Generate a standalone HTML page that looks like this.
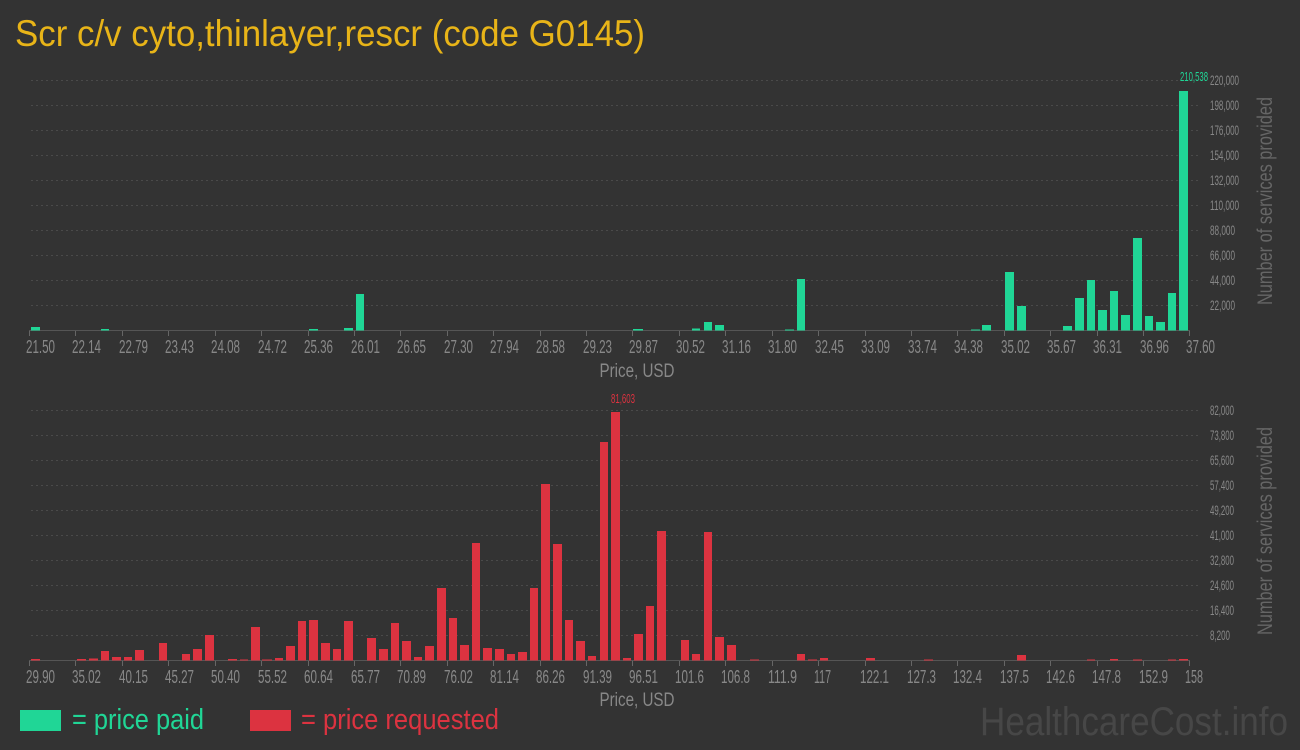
<!DOCTYPE html>
<html><head><meta charset="utf-8"><style>
html,body{margin:0;padding:0;background:#333333;}
svg{display:block;}
text{font-family:"Liberation Sans Narrow","Liberation Sans",sans-serif;}
</style></head><body>
<svg width="1300" height="750" viewBox="0 0 1300 750" xmlns="http://www.w3.org/2000/svg">
<rect width="1300" height="750" fill="#333333"/>
<text x="15" y="46" font-size="37" fill="#e8b418" textLength="630" lengthAdjust="spacingAndGlyphs">Scr c/v cyto,thinlayer,rescr (code G0145)</text>

<g stroke="#4a4a4a" stroke-width="1" stroke-dasharray="2,3">
<line x1="31" x2="1200" y1="80.5" y2="80.5"/><line x1="31" x2="1200" y1="105.5" y2="105.5"/>
<line x1="31" x2="1200" y1="130.5" y2="130.5"/><line x1="31" x2="1200" y1="155.5" y2="155.5"/>
<line x1="31" x2="1200" y1="180.5" y2="180.5"/><line x1="31" x2="1200" y1="205.5" y2="205.5"/>
<line x1="31" x2="1200" y1="230.5" y2="230.5"/><line x1="31" x2="1200" y1="255.5" y2="255.5"/>
<line x1="31" x2="1200" y1="280.5" y2="280.5"/><line x1="31" x2="1200" y1="305.5" y2="305.5"/>
</g>
<line x1="29" x2="1190" y1="330.5" y2="330.5" stroke="#555" stroke-width="1"/>
<g fill="#888" font-size="14">
<text x="1210" y="85" textLength="29" lengthAdjust="spacingAndGlyphs">220,000</text>
<text x="1210" y="110" textLength="29" lengthAdjust="spacingAndGlyphs">198,000</text>
<text x="1210" y="135" textLength="29" lengthAdjust="spacingAndGlyphs">176,000</text>
<text x="1210" y="160" textLength="29" lengthAdjust="spacingAndGlyphs">154,000</text>
<text x="1210" y="185" textLength="29" lengthAdjust="spacingAndGlyphs">132,000</text>
<text x="1210" y="210" textLength="29" lengthAdjust="spacingAndGlyphs">110,000</text>
<text x="1210" y="235" textLength="25" lengthAdjust="spacingAndGlyphs">88,000</text>
<text x="1210" y="260" textLength="25" lengthAdjust="spacingAndGlyphs">66,000</text>
<text x="1210" y="285" textLength="25" lengthAdjust="spacingAndGlyphs">44,000</text>
<text x="1210" y="310" textLength="25" lengthAdjust="spacingAndGlyphs">22,000</text>
</g>
<text transform="translate(1272,201) rotate(-90)" text-anchor="middle" font-size="21" fill="#666" font-family="Liberation Sans, sans-serif" textLength="208" lengthAdjust="spacingAndGlyphs">Number of services provided</text>
<g fill="#20d696">
<rect x="31" y="327" width="9" height="3.5"/>
<rect x="101" y="329" width="8" height="1.5"/>
<rect x="309" y="329" width="9" height="1.5"/>
<rect x="344" y="328" width="9" height="2.5"/>
<rect x="356" y="294" width="8" height="36.5"/>
<rect x="633" y="329" width="10" height="1.5"/>
<rect x="692" y="328.5" width="8" height="2"/>
<rect x="704" y="322" width="8" height="8.5"/>
<rect x="715" y="325" width="9" height="5.5"/>
<rect x="785" y="329.5" width="9" height="1"/>
<rect x="797" y="279" width="8" height="51.5"/>
<rect x="971" y="329.5" width="9" height="1"/>
<rect x="982" y="325" width="9" height="5.5"/>
<rect x="1005" y="272" width="9" height="58.5"/>
<rect x="1017" y="306" width="9" height="24.5"/>
<rect x="1063" y="326" width="9" height="4.5"/>
<rect x="1075" y="298" width="9" height="32.5"/>
<rect x="1087" y="280" width="8" height="50.5"/>
<rect x="1098" y="310" width="9" height="20.5"/>
<rect x="1110" y="291" width="8" height="39.5"/>
<rect x="1121" y="315" width="9" height="15.5"/>
<rect x="1133" y="238" width="9" height="92.5"/>
<rect x="1145" y="316" width="8" height="14.5"/>
<rect x="1156" y="322" width="9" height="8.5"/>
<rect x="1168" y="293" width="8" height="37.5"/>
<rect x="1179" y="91" width="9" height="239.5"/>
</g>
<text x="1180" y="81" font-size="13" fill="#20d696" textLength="28" lengthAdjust="spacingAndGlyphs">210,538</text>
<g id="tt" stroke="#666" stroke-width="1">
<line x1="29.5" x2="29.5" y1="331" y2="336"/><line x1="75.5" x2="75.5" y1="331" y2="336"/><line x1="122.5" x2="122.5" y1="331" y2="336"/><line x1="168.5" x2="168.5" y1="331" y2="336"/><line x1="215.5" x2="215.5" y1="331" y2="336"/><line x1="261.5" x2="261.5" y1="331" y2="336"/><line x1="308.5" x2="308.5" y1="331" y2="336"/><line x1="354.5" x2="354.5" y1="331" y2="336"/><line x1="400.5" x2="400.5" y1="331" y2="336"/><line x1="447.5" x2="447.5" y1="331" y2="336"/><line x1="493.5" x2="493.5" y1="331" y2="336"/><line x1="540.5" x2="540.5" y1="331" y2="336"/><line x1="586.5" x2="586.5" y1="331" y2="336"/><line x1="632.5" x2="632.5" y1="331" y2="336"/><line x1="679.5" x2="679.5" y1="331" y2="336"/><line x1="725.5" x2="725.5" y1="331" y2="336"/><line x1="772.5" x2="772.5" y1="331" y2="336"/><line x1="818.5" x2="818.5" y1="331" y2="336"/><line x1="865.5" x2="865.5" y1="331" y2="336"/><line x1="911.5" x2="911.5" y1="331" y2="336"/><line x1="957.5" x2="957.5" y1="331" y2="336"/><line x1="1004.5" x2="1004.5" y1="331" y2="336"/><line x1="1050.5" x2="1050.5" y1="331" y2="336"/><line x1="1097.5" x2="1097.5" y1="331" y2="336"/><line x1="1143.5" x2="1143.5" y1="331" y2="336"/><line x1="1189.5" x2="1189.5" y1="331" y2="336"/>
</g>
<g fill="#888" font-size="18">
<text x="26" y="353" textLength="29" lengthAdjust="spacingAndGlyphs">21.50</text>
<text x="72" y="353" textLength="29" lengthAdjust="spacingAndGlyphs">22.14</text>
<text x="119" y="353" textLength="29" lengthAdjust="spacingAndGlyphs">22.79</text>
<text x="165" y="353" textLength="29" lengthAdjust="spacingAndGlyphs">23.43</text>
<text x="211" y="353" textLength="29" lengthAdjust="spacingAndGlyphs">24.08</text>
<text x="258" y="353" textLength="29" lengthAdjust="spacingAndGlyphs">24.72</text>
<text x="304" y="353" textLength="29" lengthAdjust="spacingAndGlyphs">25.36</text>
<text x="351" y="353" textLength="29" lengthAdjust="spacingAndGlyphs">26.01</text>
<text x="397" y="353" textLength="29" lengthAdjust="spacingAndGlyphs">26.65</text>
<text x="444" y="353" textLength="29" lengthAdjust="spacingAndGlyphs">27.30</text>
<text x="490" y="353" textLength="29" lengthAdjust="spacingAndGlyphs">27.94</text>
<text x="536" y="353" textLength="29" lengthAdjust="spacingAndGlyphs">28.58</text>
<text x="583" y="353" textLength="29" lengthAdjust="spacingAndGlyphs">29.23</text>
<text x="629" y="353" textLength="29" lengthAdjust="spacingAndGlyphs">29.87</text>
<text x="676" y="353" textLength="29" lengthAdjust="spacingAndGlyphs">30.52</text>
<text x="722" y="353" textLength="29" lengthAdjust="spacingAndGlyphs">31.16</text>
<text x="768" y="353" textLength="29" lengthAdjust="spacingAndGlyphs">31.80</text>
<text x="815" y="353" textLength="29" lengthAdjust="spacingAndGlyphs">32.45</text>
<text x="861" y="353" textLength="29" lengthAdjust="spacingAndGlyphs">33.09</text>
<text x="908" y="353" textLength="29" lengthAdjust="spacingAndGlyphs">33.74</text>
<text x="954" y="353" textLength="29" lengthAdjust="spacingAndGlyphs">34.38</text>
<text x="1001" y="353" textLength="29" lengthAdjust="spacingAndGlyphs">35.02</text>
<text x="1047" y="353" textLength="29" lengthAdjust="spacingAndGlyphs">35.67</text>
<text x="1093" y="353" textLength="29" lengthAdjust="spacingAndGlyphs">36.31</text>
<text x="1140" y="353" textLength="29" lengthAdjust="spacingAndGlyphs">36.96</text>
<text x="1186" y="353" textLength="29" lengthAdjust="spacingAndGlyphs">37.60</text>
</g>
<text x="637" y="377" text-anchor="middle" font-size="19" fill="#888" textLength="75" lengthAdjust="spacingAndGlyphs">Price, USD</text>

<g stroke="#4a4a4a" stroke-width="1" stroke-dasharray="2,3">
<line x1="31" x2="1200" y1="410.5" y2="410.5"/><line x1="31" x2="1200" y1="435.5" y2="435.5"/>
<line x1="31" x2="1200" y1="460.5" y2="460.5"/><line x1="31" x2="1200" y1="485.5" y2="485.5"/>
<line x1="31" x2="1200" y1="510.5" y2="510.5"/><line x1="31" x2="1200" y1="535.5" y2="535.5"/>
<line x1="31" x2="1200" y1="560.5" y2="560.5"/><line x1="31" x2="1200" y1="585.5" y2="585.5"/>
<line x1="31" x2="1200" y1="610.5" y2="610.5"/><line x1="31" x2="1200" y1="635.5" y2="635.5"/>
</g>
<line x1="29" x2="1190" y1="660.5" y2="660.5" stroke="#555" stroke-width="1"/>
<g fill="#888" font-size="14">
<text x="1210" y="415" textLength="24" lengthAdjust="spacingAndGlyphs">82,000</text>
<text x="1210" y="440" textLength="24" lengthAdjust="spacingAndGlyphs">73,800</text>
<text x="1210" y="465" textLength="24" lengthAdjust="spacingAndGlyphs">65,600</text>
<text x="1210" y="490" textLength="24" lengthAdjust="spacingAndGlyphs">57,400</text>
<text x="1210" y="515" textLength="24" lengthAdjust="spacingAndGlyphs">49,200</text>
<text x="1210" y="540" textLength="24" lengthAdjust="spacingAndGlyphs">41,000</text>
<text x="1210" y="565" textLength="24" lengthAdjust="spacingAndGlyphs">32,800</text>
<text x="1210" y="590" textLength="24" lengthAdjust="spacingAndGlyphs">24,600</text>
<text x="1210" y="615" textLength="24" lengthAdjust="spacingAndGlyphs">16,400</text>
<text x="1210" y="640" textLength="20" lengthAdjust="spacingAndGlyphs">8,200</text>
</g>
<text transform="translate(1272,531) rotate(-90)" text-anchor="middle" font-size="21" fill="#666" font-family="Liberation Sans, sans-serif" textLength="208" lengthAdjust="spacingAndGlyphs">Number of services provided</text>
<g fill="#dc3340">
<rect x="31" y="659" width="9" height="1.5"/>
<rect x="77" y="659" width="9" height="1.5"/>
<rect x="89" y="658.5" width="9" height="2"/>
<rect x="101" y="651" width="8" height="9.5"/>
<rect x="112" y="657" width="9" height="3.5"/>
<rect x="124" y="657" width="8" height="3.5"/>
<rect x="135" y="650" width="9" height="10.5"/>
<rect x="159" y="643" width="8" height="17.5"/>
<rect x="182" y="654" width="8" height="6.5"/>
<rect x="193" y="649" width="9" height="11.5"/>
<rect x="205" y="635" width="9" height="25.5"/>
<rect x="228" y="659" width="9" height="1.5"/>
<rect x="240" y="659.5" width="8" height="1"/>
<rect x="251" y="627" width="9" height="33.5"/>
<rect x="262" y="659.5" width="10" height="1"/>
<rect x="275" y="658" width="8" height="2.5"/>
<rect x="286" y="646" width="9" height="14.5"/>
<rect x="298" y="621" width="8" height="39.5"/>
<rect x="309" y="620" width="9" height="40.5"/>
<rect x="321" y="643" width="9" height="17.5"/>
<rect x="333" y="649" width="8" height="11.5"/>
<rect x="344" y="621" width="9" height="39.5"/>
<rect x="367" y="638" width="9" height="22.5"/>
<rect x="379" y="649" width="9" height="11.5"/>
<rect x="391" y="623" width="8" height="37.5"/>
<rect x="402" y="641" width="9" height="19.5"/>
<rect x="414" y="657" width="8" height="3.5"/>
<rect x="425" y="646" width="9" height="14.5"/>
<rect x="437" y="588" width="9" height="72.5"/>
<rect x="449" y="618" width="8" height="42.5"/>
<rect x="460" y="645" width="9" height="15.5"/>
<rect x="472" y="543" width="8" height="117.5"/>
<rect x="483" y="648" width="9" height="12.5"/>
<rect x="495" y="649" width="9" height="11.5"/>
<rect x="507" y="654" width="8" height="6.5"/>
<rect x="518" y="652" width="9" height="8.5"/>
<rect x="530" y="588" width="8" height="72.5"/>
<rect x="541" y="484" width="9" height="176.5"/>
<rect x="553" y="544" width="9" height="116.5"/>
<rect x="565" y="620" width="8" height="40.5"/>
<rect x="576" y="641" width="9" height="19.5"/>
<rect x="588" y="656" width="8" height="4.5"/>
<rect x="600" y="442" width="8" height="218.5"/>
<rect x="611" y="412" width="9" height="248.5"/>
<rect x="623" y="658" width="8" height="2.5"/>
<rect x="634" y="634" width="9" height="26.5"/>
<rect x="646" y="606" width="8" height="54.5"/>
<rect x="657" y="531" width="9" height="129.5"/>
<rect x="681" y="640" width="8" height="20.5"/>
<rect x="692" y="654" width="8" height="6.5"/>
<rect x="704" y="532" width="8" height="128.5"/>
<rect x="715" y="637" width="9" height="23.5"/>
<rect x="727" y="645" width="9" height="15.5"/>
<rect x="750" y="659.5" width="9" height="1"/>
<rect x="797" y="654" width="8" height="6.5"/>
<rect x="808" y="659.5" width="9" height="1"/>
<rect x="820" y="658" width="8" height="2.5"/>
<rect x="866" y="658" width="9" height="2.5"/>
<rect x="924" y="659.5" width="9" height="1"/>
<rect x="1017" y="655" width="9" height="5.5"/>
<rect x="1087" y="659.5" width="8" height="1"/>
<rect x="1110" y="659" width="8" height="1.5"/>
<rect x="1133" y="659.5" width="9" height="1"/>
<rect x="1168" y="659.5" width="8" height="1"/>
<rect x="1179" y="659" width="9" height="1.5"/>
</g>
<text x="611" y="403" font-size="13" fill="#dc3340" textLength="24" lengthAdjust="spacingAndGlyphs">81,603</text>
<use href="#tt" transform="translate(0,330)"/>
<g fill="#888" font-size="18">
<text x="26" y="683" textLength="29" lengthAdjust="spacingAndGlyphs">29.90</text>
<text x="72" y="683" textLength="29" lengthAdjust="spacingAndGlyphs">35.02</text>
<text x="119" y="683" textLength="29" lengthAdjust="spacingAndGlyphs">40.15</text>
<text x="165" y="683" textLength="29" lengthAdjust="spacingAndGlyphs">45.27</text>
<text x="211" y="683" textLength="29" lengthAdjust="spacingAndGlyphs">50.40</text>
<text x="258" y="683" textLength="29" lengthAdjust="spacingAndGlyphs">55.52</text>
<text x="304" y="683" textLength="29" lengthAdjust="spacingAndGlyphs">60.64</text>
<text x="351" y="683" textLength="29" lengthAdjust="spacingAndGlyphs">65.77</text>
<text x="397" y="683" textLength="29" lengthAdjust="spacingAndGlyphs">70.89</text>
<text x="444" y="683" textLength="29" lengthAdjust="spacingAndGlyphs">76.02</text>
<text x="490" y="683" textLength="29" lengthAdjust="spacingAndGlyphs">81.14</text>
<text x="536" y="683" textLength="29" lengthAdjust="spacingAndGlyphs">86.26</text>
<text x="583" y="683" textLength="29" lengthAdjust="spacingAndGlyphs">91.39</text>
<text x="629" y="683" textLength="29" lengthAdjust="spacingAndGlyphs">96.51</text>
<text x="675" y="683" textLength="29" lengthAdjust="spacingAndGlyphs">101.6</text>
<text x="721" y="683" textLength="29" lengthAdjust="spacingAndGlyphs">106.8</text>
<text x="768" y="683" textLength="29" lengthAdjust="spacingAndGlyphs">111.9</text>
<text x="814" y="683" textLength="17" lengthAdjust="spacingAndGlyphs">117</text>
<text x="860" y="683" textLength="29" lengthAdjust="spacingAndGlyphs">122.1</text>
<text x="907" y="683" textLength="29" lengthAdjust="spacingAndGlyphs">127.3</text>
<text x="953" y="683" textLength="29" lengthAdjust="spacingAndGlyphs">132.4</text>
<text x="1000" y="683" textLength="29" lengthAdjust="spacingAndGlyphs">137.5</text>
<text x="1046" y="683" textLength="29" lengthAdjust="spacingAndGlyphs">142.6</text>
<text x="1092" y="683" textLength="29" lengthAdjust="spacingAndGlyphs">147.8</text>
<text x="1139" y="683" textLength="29" lengthAdjust="spacingAndGlyphs">152.9</text>
<text x="1185" y="683" textLength="18" lengthAdjust="spacingAndGlyphs">158</text>
</g>
<text x="637" y="706" text-anchor="middle" font-size="19" fill="#888" textLength="75" lengthAdjust="spacingAndGlyphs">Price, USD</text>

<rect x="20" y="710" width="41" height="21" fill="#20d696"/>
<text x="72" y="729" font-size="29" fill="#20d696" textLength="132" lengthAdjust="spacingAndGlyphs">= price paid</text>
<rect x="250" y="710" width="41" height="21" fill="#dc3340"/>
<text x="301" y="729" font-size="29" fill="#dc3340" textLength="198" lengthAdjust="spacingAndGlyphs">= price requested</text>
<text x="980" y="735" font-size="40" fill="#474747" textLength="308" lengthAdjust="spacingAndGlyphs">HealthcareCost.info</text>
</svg>
</body></html>
